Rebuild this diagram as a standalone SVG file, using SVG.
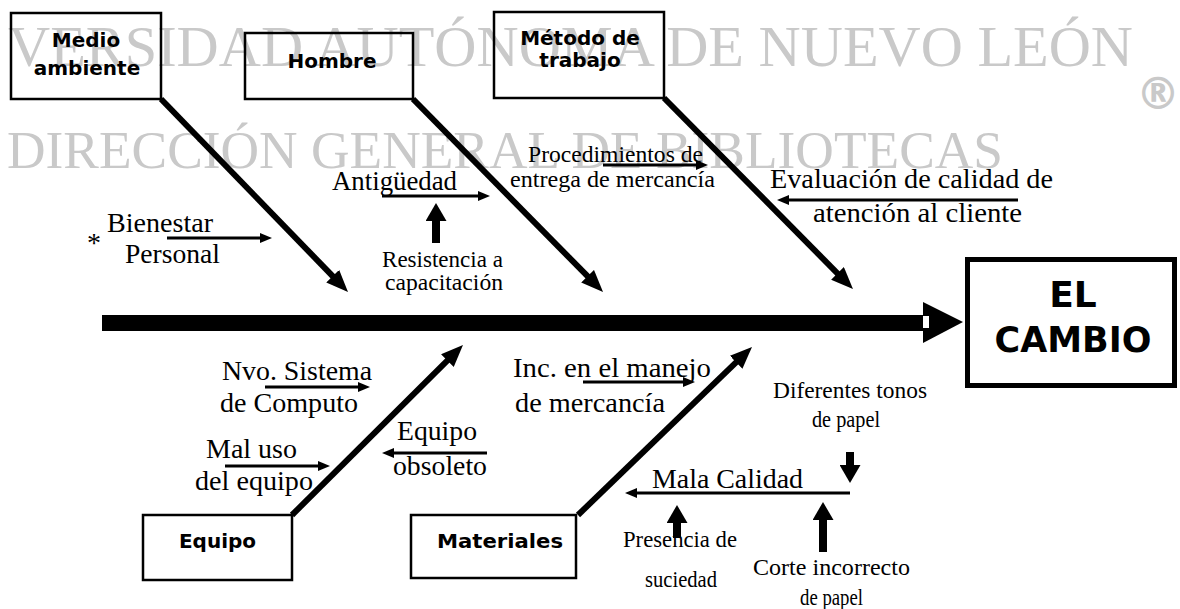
<svg xmlns="http://www.w3.org/2000/svg" width="1180" height="609" viewBox="0 0 1180 609">
<style>
.box{fill:none;stroke:#000;stroke-width:2.5}
.bl{font-family:"DejaVu Sans",Verdana,sans-serif;font-weight:bold;font-size:20px;fill:#000}
.big{font-size:36px}
.lb{font-family:"Liberation Serif","Times New Roman",serif;font-size:28px;fill:#000}
.sm{font-size:23px}
.wm{font-family:"Liberation Serif","Times New Roman",serif;fill:#c9c9c9}
.bone{stroke:#000;stroke-width:6;fill:none;marker-end:url(#big)}
.sub{stroke:#000;stroke-width:3;fill:none;marker-end:url(#small)}
.blk{stroke:#000;stroke-width:8;fill:none;marker-end:url(#block)}
</style>
<defs>
<marker id="big" markerUnits="userSpaceOnUse" viewBox="0 0 22 18" markerWidth="22" markerHeight="18" refX="2" refY="9" orient="auto"><path d="M0,0 L22,9 L0,18 z" fill="#000"/></marker>
<marker id="small" markerUnits="userSpaceOnUse" viewBox="0 0 12 10" markerWidth="12" markerHeight="10" refX="1" refY="5" orient="auto"><path d="M0,0 L12,5 L0,10 z" fill="#000"/></marker>
<marker id="block" markerUnits="userSpaceOnUse" viewBox="0 0 18 21" markerWidth="18" markerHeight="21" refX="1" refY="10.5" orient="auto"><path d="M0,0 L18,10.5 L0,21 z" fill="#000"/></marker>
</defs>
<rect width="1180" height="609" fill="#fff"/>
<g id="watermark">
<text class="wm" x="8" y="66" font-size="58" textLength="1125" lengthAdjust="spacingAndGlyphs">VERSIDAD AUTÓNOMA DE NUEVO LEÓN</text>
<text class="wm" x="7" y="168" font-size="53" textLength="996" lengthAdjust="spacingAndGlyphs">DIRECCIÓN GENERAL DE BIBLIOTECAS</text>
<text x="1158" y="109" text-anchor="middle" font-family="DejaVu Sans,sans-serif" font-weight="bold" font-size="44" fill="#c9c9c9">®</text>
</g>
<g id="connectors">
<rect x="102" y="315" width="821" height="16" fill="#000"/>
<polygon points="923,302 963,322 923,343" fill="#000"/>
<rect x="923" y="316" width="6" height="12" fill="#fff"/>
<path class="bone" d="M161,99 L334.1,277.6"/>
<path class="bone" d="M413,99 L589,277.7"/>
<path class="bone" d="M664,98 L838.9,274.8"/>
<path class="bone" d="M292,515 L448.8,359.1"/>
<path class="bone" d="M578,515 L737.6,360.9"/>
<path class="sub" d="M167,238 H261"/>
<path class="sub" d="M382,196 H479"/>
<path class="sub" d="M603,165 H697"/>
<path class="sub" d="M1018,200 H788"/>
<path class="sub" d="M265,387 H359"/>
<path class="sub" d="M225,466 H319"/>
<path class="sub" d="M487,453 H393"/>
<path class="sub" d="M583,382 H684"/>
<path class="sub" d="M850,493 H636"/>
<path class="blk" d="M436,243 V220"/>
<path class="blk" d="M850,452 V466"/>
<path class="blk" d="M677,538 V522"/>
<path class="blk" d="M823,552 V519"/>
</g>
<g id="medio-ambiente">
<rect class="box" x="11" y="13" width="150" height="86"/>
<text class="bl" x="86" y="47" text-anchor="middle">Medio</text>
<text class="bl" x="87" y="75" text-anchor="middle">ambiente</text>
</g>
<g id="hombre">
<rect class="box" x="245" y="33" width="168" height="66"/>
<text class="bl" x="332" y="68" text-anchor="middle">Hombre</text>
</g>
<g id="metodo">
<rect class="box" x="494" y="12" width="170" height="86"/>
<text class="bl" x="580" y="45" text-anchor="middle">Método de</text>
<text class="bl" x="580" y="67" text-anchor="middle">trabajo</text>
</g>
<g id="equipo">
<rect class="box" x="143" y="515" width="149" height="65"/>
<text class="bl" x="217.5" y="548" text-anchor="middle">Equipo</text>
</g>
<g id="materiales">
<rect class="box" x="411" y="515" width="165" height="63"/>
<text class="bl" x="437" y="548" textLength="126" lengthAdjust="spacingAndGlyphs">Materiales</text>
</g>
<g id="el-cambio">
<rect x="967.5" y="259.5" width="207" height="126" fill="none" stroke="#000" stroke-width="5"/>
<text class="bl big" x="1073" y="307" text-anchor="middle">EL</text>
<text class="bl big" x="1073" y="352" text-anchor="middle" textLength="157" lengthAdjust="spacingAndGlyphs">CAMBIO</text>
</g>
<g id="causes">
<text class="lb" x="87" y="252">*</text>
<text class="lb" x="107" y="232" textLength="106" lengthAdjust="spacingAndGlyphs">Bienestar</text>
<text class="lb" x="125" y="263" textLength="95" lengthAdjust="spacingAndGlyphs">Personal</text>
<text class="lb" x="332" y="190" textLength="125" lengthAdjust="spacingAndGlyphs">Antigüedad</text>
<text class="lb sm" x="382" y="267" textLength="121" lengthAdjust="spacingAndGlyphs">Resistencia a</text>
<text class="lb sm" x="385" y="290" textLength="118" lengthAdjust="spacingAndGlyphs">capacitación</text>
<text class="lb sm" x="528" y="162" textLength="175" lengthAdjust="spacingAndGlyphs">Procedimientos de</text>
<text class="lb sm" x="510" y="187" textLength="205" lengthAdjust="spacingAndGlyphs">entrega de mercancía</text>
<text class="lb" x="770" y="188" textLength="283" lengthAdjust="spacingAndGlyphs">Evaluación de calidad de</text>
<text class="lb" x="813" y="222" textLength="209" lengthAdjust="spacingAndGlyphs">atención al cliente</text>
<text class="lb" x="222" y="380" textLength="150" lengthAdjust="spacingAndGlyphs">Nvo. Sistema</text>
<text class="lb" x="220" y="412" textLength="138" lengthAdjust="spacingAndGlyphs">de Computo</text>
<text class="lb" x="206" y="458" textLength="91" lengthAdjust="spacingAndGlyphs">Mal uso</text>
<text class="lb" x="195" y="490" textLength="118" lengthAdjust="spacingAndGlyphs">del equipo</text>
<text class="lb" x="397" y="440" textLength="80" lengthAdjust="spacingAndGlyphs">Equipo</text>
<text class="lb" x="393" y="475" textLength="94" lengthAdjust="spacingAndGlyphs">obsoleto</text>
<text class="lb" x="513" y="377" textLength="198" lengthAdjust="spacingAndGlyphs">Inc. en el manejo</text>
<text class="lb" x="515" y="412" textLength="150" lengthAdjust="spacingAndGlyphs">de mercancía</text>
<text class="lb sm" x="773" y="398" textLength="154" lengthAdjust="spacingAndGlyphs">Diferentes tonos</text>
<text class="lb sm" x="812" y="427" textLength="68" lengthAdjust="spacingAndGlyphs">de papel</text>
<text class="lb" x="652" y="488" textLength="151" lengthAdjust="spacingAndGlyphs">Mala Calidad</text>
<text class="lb sm" x="623" y="547" textLength="114" lengthAdjust="spacingAndGlyphs">Presencia de</text>
<text class="lb sm" x="645" y="587" textLength="72" lengthAdjust="spacingAndGlyphs">suciedad</text>
<text class="lb sm" x="753" y="575" textLength="157" lengthAdjust="spacingAndGlyphs">Corte incorrecto</text>
<text class="lb sm" x="800" y="605" textLength="63" lengthAdjust="spacingAndGlyphs">de papel</text>
</g>
</svg>
